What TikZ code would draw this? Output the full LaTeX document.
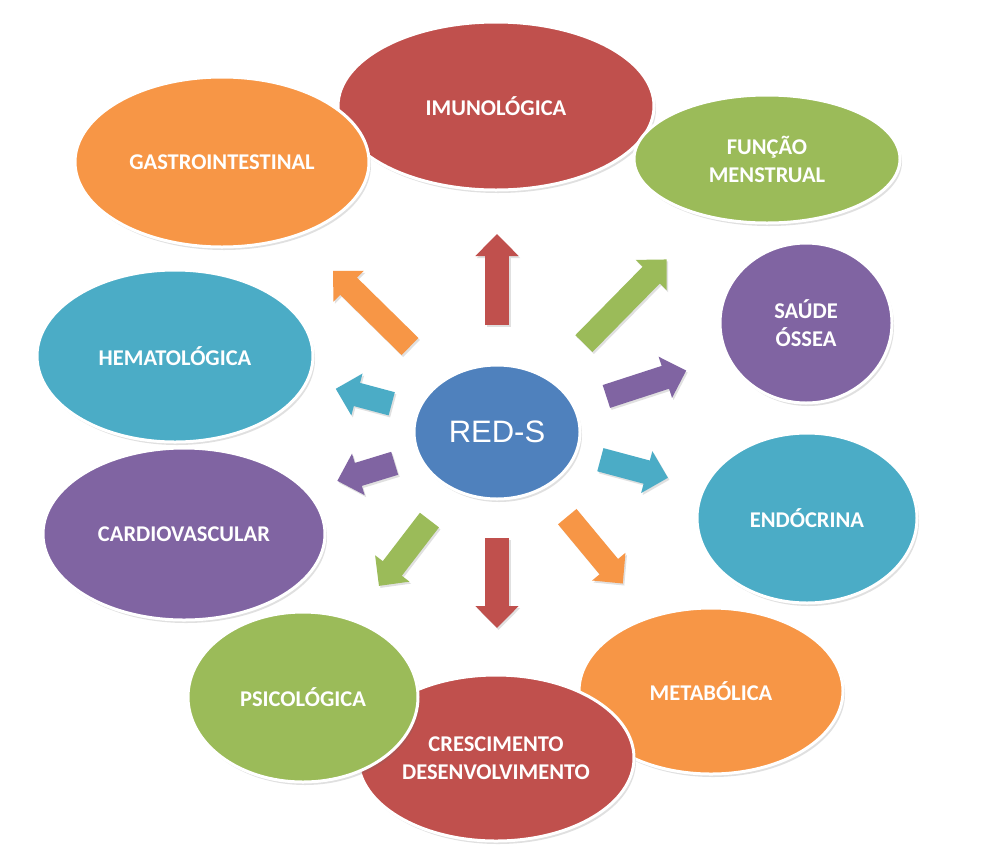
\documentclass[tikz,border=0pt]{standalone}
\usepackage{fontspec}
\setmainfont{Carlito}
\newfontfamily\redsfont{Liberation Sans}
\usetikzlibrary{shapes.geometric,shadows,arrows.meta,calc}

\definecolor{tred}{HTML}{C0504D}
\definecolor{torange}{HTML}{F79646}
\definecolor{tgreen}{HTML}{9BBB59}
\definecolor{tpurple}{HTML}{8064A2}
\definecolor{tcyan}{HTML}{4BACC6}
\definecolor{tblue}{HTML}{4F81BD}

\tikzset{
  area/.style={ellipse, draw=white, line width=3pt, fill=#1, text=white,
    inner sep=0pt, align=center, font=\bfseries\fontsize{22.5}{28}\selectfont,
    drop shadow={shadow xshift=2pt, shadow yshift=-3pt, opacity=0.2, fill=black!60}},
  spoke/.style={line width=24pt, draw=#1, -{Triangle[length=22pt,width=42pt]}}
}

\begin{document}
\begin{tikzpicture}[x=1pt, y=1pt]
  \useasboundingbox (0,0) rectangle (984,-857);
  \fill[white] (0,0) rectangle (984,-857);

  %%%%%%%%%%%%%%%% outer ring %%%%%%%%%%%%%%%%
  \node[area=tred, minimum width=316pt, minimum height=168pt] (imuno) at (496,-106) {IMUNOLÓGICA};
  \node[area=torange, minimum width=294pt, minimum height=170pt] (gastro) at (222,-162) {GASTROINTESTINAL};
  \node[area=tgreen, minimum width=266pt, minimum height=128pt] (menstrual) at (767,-159) {FUNÇÃO\\MENSTRUAL};
  \node[area=tpurple, minimum width=172pt, minimum height=160pt] (ossea) at (806,-323) {SAÚDE\\ÓSSEA};
  \node[area=tcyan, minimum width=220pt, minimum height=170pt] (endo) at (807,-518) {ENDÓCRINA};
  \node[area=torange, minimum width=264pt, minimum height=166pt] (metab) at (711,-691) {METABÓLICA};
  \node[area=tred, minimum width=276pt, minimum height=166pt] (cresc) at (496,-758) {CRESCIMENTO\\DESENVOLVIMENTO};
  \node[area=tgreen, minimum width=230pt, minimum height=170pt] (psico) at (303,-697) {PSICOLÓGICA};
  \node[area=tpurple, minimum width=282pt, minimum height=172pt] (cardio) at (184,-534) {CARDIOVASCULAR};
  \node[area=tcyan, minimum width=276pt, minimum height=172pt] (hemato) at (175,-356) {HEMATOLÓGICA};

  %%%%%%%%%%%%%%%% centre %%%%%%%%%%%%%%%%
  \node[area=tblue, minimum width=166pt, minimum height=134pt,
    font=\redsfont\fontsize{31}{36}\selectfont] (reds) at (497,-432) {RED-S};

  %%%%%%%%%%%%%%%% arrows %%%%%%%%%%%%%%%%
  \foreach \ang/\rin/\rout/\col in {90/107/198/tred, 45.5/124/242/tgreen,
      18/115/199/tpurple, -15/107/177/tcyan, -50.3/110/197/torange,
      270/106/196/tred, 232.5/111/194/tgreen, 197/107/167/tpurple,
      165/109/167/tcyan, 135.5/122/230/torange}
  {
    \draw[spoke=black!12] ($(reds.center)+(\ang:\rin)+(1.5,-2)$) -- ($(reds.center)+(\ang:\rout)+(1.5,-2)$);
    \draw[spoke=\col] ($(reds.center)+(\ang:\rin)$) -- ($(reds.center)+(\ang:\rout)$);
  }
\end{tikzpicture}
\end{document}
